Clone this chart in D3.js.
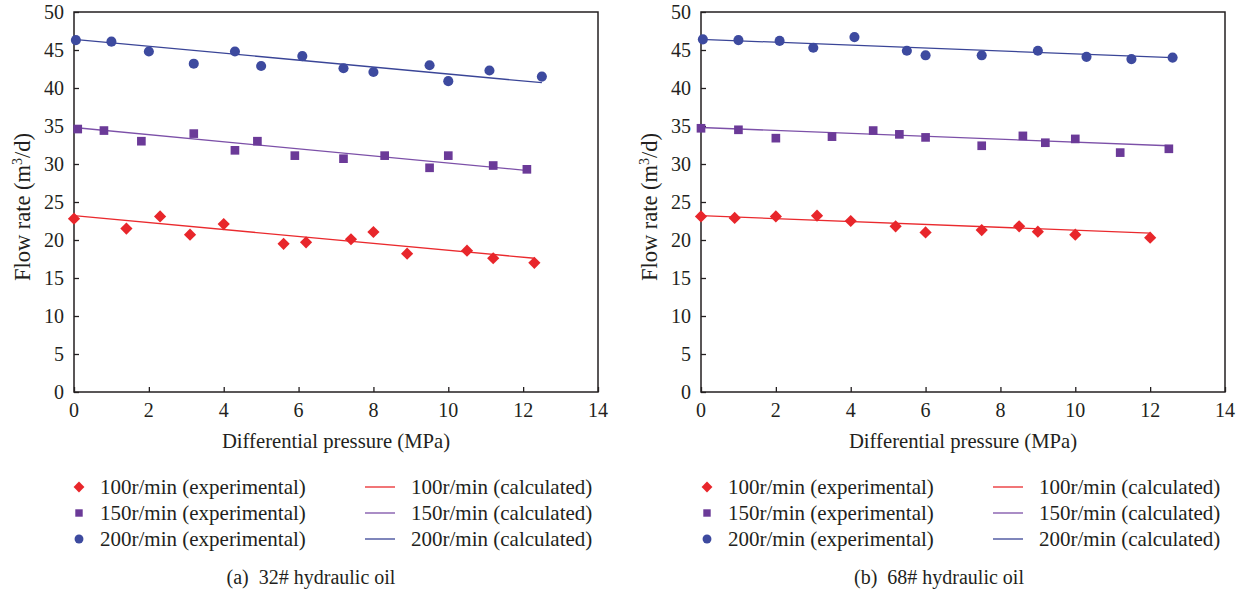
<!DOCTYPE html>
<html>
<head>
<meta charset="utf-8">
<script src="https://cdn.jsdelivr.net/npm/d3@7"></script>
<style>
  body { margin: 0; background: #fff; }
  svg text { font-family: "Liberation Serif", "DejaVu Serif", serif; fill: #231f20; }
</style>
</head>
<body>
<svg id="chart" width="1246" height="595"></svg>
<script>
// axis ticks
const xTicks = [0, 2, 4, 6, 8, 10, 12, 14];
const yTicks = [0, 5, 10, 15, 20, 25, 30, 35, 40, 45, 50];

// legend / series names
const speeds = ["100r/min", "150r/min", "200r/min"];
const captions = ["(a)  32# hydraulic oil", "(b)  68# hydraulic oil"];

// 32# oil, experimental points [pressure, flow]
const oil32_100 = [[0,22.8],[1.4,21.5],[2.3,23.1],[3.1,20.7],[4,22.1],[5.6,19.5],[6.2,19.7],[7.4,20.1],[8,21.05],[8.9,18.2],[10.5,18.6],[11.2,17.6],[12.3,17]];
const oil32_150 = [[0.1,34.6],[0.8,34.4],[1.8,33],[3.2,34],[4.3,31.8],[4.9,33],[5.9,31.1],[7.2,30.7],[8.3,31.1],[9.5,29.5],[10,31.1],[11.2,29.8],[12.1,29.3]];
const oil32_200 = [[0.05,46.3],[1,46.1],[2,44.8],[3.2,43.2],[4.3,44.8],[5,42.9],[6.1,44.2],[7.2,42.6],[8,42.1],[9.5,43],[10,40.9],[11.1,42.3],[12.5,41.5]];
// 32# oil, calculated lines
const oil32_100calc = [[0,23.2],[12.3,17.6]];
const oil32_150calc = [[0,34.8],[12.2,29.1]];
const oil32_200calc = [[0,46.4],[12.5,40.7]];

// 68# oil, experimental points
const oil68_100 = [[0,23.1],[0.9,22.9],[2,23.1],[3.1,23.2],[4,22.5],[5.2,21.8],[6,21],[7.5,21.3],[8.5,21.8],[9,21.1],[10,20.7],[12,20.3]];
const oil68_150 = [[0,34.7],[1,34.5],[2,33.4],[3.5,33.6],[4.6,34.4],[5.3,33.9],[6,33.5],[7.5,32.4],[8.6,33.7],[9.2,32.8],[10,33.3],[11.2,31.5],[12.5,32]];
const oil68_200 = [[0.05,46.4],[1,46.3],[2.1,46.2],[3,45.3],[4.1,46.7],[5.5,44.9],[6,44.3],[7.5,44.3],[9,44.9],[10.3,44.1],[11.5,43.8],[12.6,44]];
// 68# oil, calculated lines
const oil68_100calc = [[0,23.2],[12,20.9]];
const oil68_150calc = [[0,34.8],[12.5,32.4]];
const oil68_200calc = [[0,46.4],[12.6,44]];

const pointColors = ["#e8262b", "#6b3a98", "#3d4a9f"];
const lineColors = ["#ea2a2e", "#7c50a8", "#3a4597"];
const shapes = [d3.symbolDiamond2, d3.symbolSquare, d3.symbolCircle];

const svg = d3.select("#chart");

const panels = [
  {left: 74, exp: [oil32_100, oil32_150, oil32_200], calc: [oil32_100calc, oil32_150calc, oil32_200calc],
   titleX: 22.5, legendX: 79, caption: captions[0], captionX: 311},
  {left: 701, exp: [oil68_100, oil68_150, oil68_200], calc: [oil68_100calc, oil68_150calc, oil68_200calc],
   titleX: 649.5, legendX: 707, caption: captions[1], captionX: 939}
];

panels.forEach(function(p) {
  const w = 524, top = 12, bottom = 392;
  const x = d3.scaleLinear().domain([0, 14]).range([p.left, p.left + w]);
  const y = d3.scaleLinear().domain([0, 50]).range([bottom, top]);

  const g = svg.append("g");

  // frame
  g.append("rect")
      .attr("x", p.left).attr("y", top)
      .attr("width", w).attr("height", bottom - top)
      .attr("fill", "none").attr("stroke", "#231f20").attr("stroke-width", 1.5);

  // axes, ticks pointing inward
  const xAxis = g.append("g")
      .attr("transform", "translate(0," + bottom + ")")
      .call(d3.axisTop(x).tickValues(xTicks).tickSize(5).tickFormat(""));
  xAxis.select(".domain").remove();
  xAxis.selectAll("line").attr("stroke", "#231f20").attr("stroke-width", 1.3);
  g.selectAll(".xlab").data(xTicks).enter().append("text")
      .attr("x", d => x(d)).attr("y", 417)
      .attr("text-anchor", "middle").attr("font-size", 20)
      .text(d => d);

  const yAxis = g.append("g")
      .attr("transform", "translate(" + p.left + ",0)")
      .call(d3.axisRight(y).tickValues(yTicks).tickSize(5).tickFormat(""));
  yAxis.select(".domain").remove();
  yAxis.selectAll("line").attr("stroke", "#231f20").attr("stroke-width", 1.3);
  g.selectAll(".ylab").data(yTicks).enter().append("text")
      .attr("x", p.left - 10).attr("y", d => y(d) + 6.5)
      .attr("text-anchor", "end").attr("font-size", 20)
      .text(d => d);

  // axis titles
  g.append("text")
      .attr("x", x(7)).attr("y", 448)
      .attr("text-anchor", "middle").attr("font-size", 20.7)
      .text("Differential pressure (MPa)");
  const yt = g.append("text")
      .attr("transform", "translate(" + (p.titleX + 7) + "," + 207 + ") rotate(-90)")
      .attr("text-anchor", "middle").attr("font-size", 22.5);
  yt.append("tspan").text("Flow rate (m");
  yt.append("tspan").attr("dy", -8).attr("font-size", 14).text("3");
  yt.append("tspan").attr("dy", 8).text("/d)");

  // calculated lines
  const line = d3.line().x(d => x(d[0])).y(d => y(d[1]));
  p.calc.forEach(function(s, i) {
    g.append("path").datum(s)
        .attr("d", line)
        .attr("fill", "none").attr("stroke", lineColors[i]).attr("stroke-width", 1.3);
  });

  // experimental points
  const sizes = [95, 75, 80];
  p.exp.forEach(function(s, i) {
    g.selectAll(null).data(s).enter().append("path")
        .attr("transform", d => "translate(" + x(d[0]) + "," + y(d[1]) + ")")
        .attr("d", d3.symbol().type(shapes[i]).size(sizes[i]))
        .attr("fill", pointColors[i]);
  });

  // legend
  const rows = [487, 513, 539];
  const legSizes = [75, 55, 62];
  speeds.forEach(function(s, i) {
    g.append("path")
        .attr("transform", "translate(" + p.legendX + "," + rows[i] + ")")
        .attr("d", d3.symbol().type(shapes[i]).size(legSizes[i]))
        .attr("fill", pointColors[i]);
    g.append("text")
        .attr("x", p.legendX + 21).attr("y", rows[i] + 7)
        .attr("font-size", 21)
        .text(s + " (experimental)");
    g.append("line")
        .attr("x1", p.legendX + 286).attr("x2", p.legendX + 316)
        .attr("y1", rows[i]).attr("y2", rows[i])
        .attr("stroke", lineColors[i]).attr("stroke-width", 1.3);
    g.append("text")
        .attr("x", p.legendX + 332).attr("y", rows[i] + 7)
        .attr("font-size", 21)
        .text(s + " (calculated)");
  });

  // caption
  g.append("text")
      .attr("x", p.captionX).attr("y", 584)
      .attr("text-anchor", "middle").attr("font-size", 20)
      .style("white-space", "pre")
      .text(p.caption);
});
</script>
</body>
</html>
